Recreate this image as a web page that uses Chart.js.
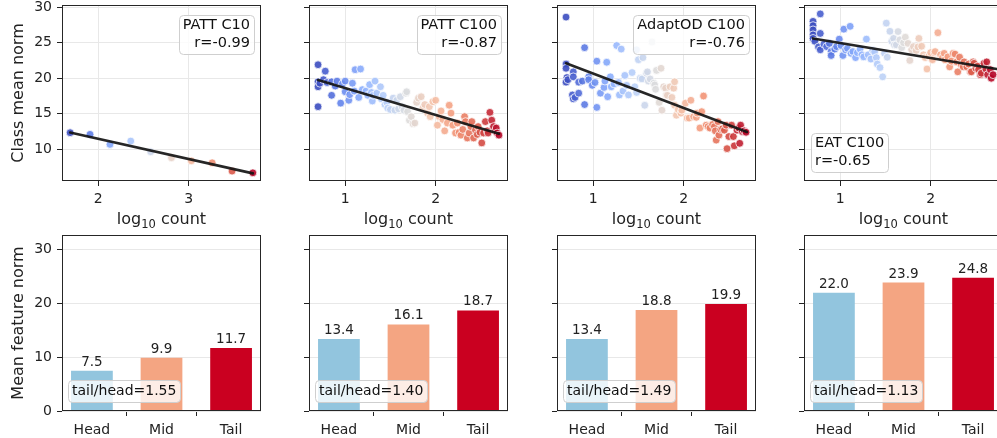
<!DOCTYPE html>
<html>
<head>
<meta charset="utf-8">
<script src="https://cdn.jsdelivr.net/npm/chart.js@4.4.1/dist/chart.umd.min.js"></script>
<style>
html,body{margin:0;padding:0;background:#fff;overflow:hidden;width:997px;height:438px;}
canvas{position:absolute;}
</style>
</head>
<body>
<script>
// ---- data ----
const panelNames = ["PATT C10", "PATT C100", "AdaptOD C100", "EAT C100"];
const rLabels = ["r=-0.99", "r=-0.87", "r=-0.76", "r=-0.65"];

const pattC10Count = [1.69,1.91,2.13,2.36,2.58,2.81,3.03,3.26,3.48,3.71];
const pattC10Norm  = [12.34,12.11,10.70,11.17,9.66,8.82,8.39,8.11,6.94,6.70];

const pattC100Count = [0.70,0.70,0.70,0.70,0.72,0.76,0.78,0.80,0.85,0.85,
  0.89,0.91,0.95,0.97,1.00,1.00,1.04,1.05,1.08,1.10,
  1.11,1.15,1.17,1.19,1.23,1.25,1.27,1.29,1.30,1.31,
  1.33,1.35,1.39,1.40,1.42,1.44,1.46,1.47,1.50,1.53,
  1.55,1.57,1.59,1.61,1.63,1.65,1.67,1.68,1.69,1.71,
  1.73,1.75,1.77,1.79,1.81,1.84,1.86,1.88,1.91,1.93,
  1.94,1.97,2.00,2.02,2.04,2.06,2.08,2.10,2.13,2.15,
  2.17,2.19,2.22,2.24,2.26,2.28,2.30,2.32,2.33,2.35,
  2.37,2.39,2.40,2.42,2.44,2.46,2.47,2.49,2.51,2.53,
  2.55,2.57,2.58,2.60,2.62,2.64,2.66,2.67,2.68,2.70];
const pattC100Norm = [21.9,19.5,18.8,16.0,19.3,19.8,21.0,19.4,19.5,17.6,
  18.9,19.6,16.5,19.2,19.6,18.1,16.9,17.7,19.3,18.2,
  21.2,17.3,21.3,18.4,18.2,17.6,19.1,18.0,16.8,17.6,
  19.6,17.9,18.8,17.1,17.6,16.3,16.6,15.8,15.6,17.2,
  15.5,16.9,15.7,17.4,16.0,15.5,17.9,18.1,15.3,14.1,
  14.6,13.6,13.7,16.6,17.2,17.4,15.8,16.3,15.1,16.0,
  14.6,16.7,16.9,13.4,14.6,15.4,14.2,12.6,13.7,16.2,
  15.1,13.4,12.3,13.7,12.4,12.0,12.8,14.6,13.9,11.6,
  12.3,13.2,13.9,11.6,12.7,12.1,13.2,12.4,10.9,12.3,
  13.9,12.6,12.3,15.2,14.1,13.2,12.6,13.0,12.3,12.0];

const adaptodCount = [0.70,0.70,0.70,0.71,0.70,0.72,0.78,0.78,0.77,0.78,
  0.80,0.84,0.84,0.88,0.905,0.905,0.95,0.95,0.99,1.02,
  1.04,1.04,1.08,1.12,1.13,1.15,1.16,1.19,1.20,1.23,
  1.26,1.28,1.29,1.31,1.33,1.35,1.37,1.39,1.43,1.46,
  1.48,1.48,1.50,1.52,1.54,1.55,1.57,1.59,1.60,1.61,
  1.63,1.65,1.67,1.68,1.69,1.70,1.73,1.75,1.76,1.78,
  1.80,1.81,1.82,1.85,1.87,1.89,1.90,1.90,1.92,1.94,
  1.97,1.98,2.02,2.04,2.06,2.08,2.11,2.14,2.15,2.18,
  2.20,2.22,2.25,2.27,2.29,2.32,2.34,2.35,2.36,2.38,
  2.39,2.41,2.43,2.45,2.47,2.48,2.50,2.53,2.55,2.56,
  2.59,2.61,2.62,2.63,2.65,2.67,2.69];
const adaptodNorm = [28.6,22.0,21.4,20.1,19.45,19.8,20.9,20.2,17.65,17.1,
  17.3,19.45,17.9,19.6,24.3,16.3,20.2,19.8,19.0,19.4,
  22.4,15.9,17.9,18.7,19.6,22.25,17.4,20.2,18.8,19.2,
  24.6,19.4,17.65,24.1,18.2,20.4,19.0,17.65,20.8,18.8,
  18.0,24.0,22.6,20.0,19.9,22.9,16.2,20.7,20.9,19.6,
  19.9,25.1,19.3,19.06,18.45,21.1,16.6,21.4,15.5,18.8,
  18.6,17.65,17.6,18.8,17.3,18.6,19.5,16.2,14.8,15.6,
  15.1,15.5,16.5,14.4,14.4,16.9,14.6,14.5,15.1,13.0,
  15.3,17.5,13.4,13.2,13.0,13.5,13.2,12.6,11.3,13.9,
  12.0,12.8,12.9,12.7,13.4,10.1,11.8,13.4,11.8,10.5,
  12.7,13.0,10.85,13.4,12.5,12.6,12.4];

const eatCount = [0.70,0.70,0.70,0.70,0.70,0.72,0.76,0.78,0.78,0.78,
  0.82,0.85,0.88,0.90,0.90,0.94,0.96,0.99,1.01,1.03,
  1.04,1.06,1.08,1.11,1.12,1.14,1.17,1.19,1.22,1.24,
  1.26,1.29,1.31,1.34,1.36,1.38,1.40,1.41,1.44,1.47,
  1.49,1.51,1.52,1.55,1.57,1.59,1.60,1.62,1.64,1.66,
  1.68,1.70,1.72,1.75,1.77,1.79,1.81,1.84,1.86,1.87,
  1.90,1.92,1.94,1.96,1.98,2.00,2.02,2.04,2.05,2.08,
  2.11,2.13,2.15,2.16,2.19,2.21,2.23,2.25,2.27,2.29,
  2.30,2.32,2.34,2.36,2.37,2.40,2.42,2.44,2.45,2.47,
  2.48,2.50,2.52,2.53,2.55,2.56,2.59,2.61,2.62,2.63,
  2.66,2.67,2.69];
const eatNorm = [28.0,27.4,26.8,26.1,25.6,25.2,24.4,29.05,26.3,24.0,
  24.8,24.45,24.9,23.75,23.2,24.1,24.45,25.5,24.6,23.2,
  26.9,24.0,24.2,27.3,23.5,23.75,22.9,23.6,24.1,23.3,
  23.0,25.5,23.3,22.7,23.9,23.7,22.9,22.0,21.5,20.2,
  23.5,27.75,22.96,26.6,25.2,25.6,24.7,24.7,26.56,25.4,
  24.3,25.0,25.77,24.9,22.5,24.0,24.45,23.9,24.4,25.6,
  24.5,23.3,22.9,21.3,23.1,23.6,22.6,23.6,23.75,26.4,
  23.3,22.9,23.5,22.6,23.0,21.6,22.4,23.5,23.4,22.3,
  20.9,22.96,21.9,21.6,22.3,21.6,22.0,20.9,20.9,22.3,
  22.1,21.4,21.7,21.2,20.5,20.7,22.1,21.3,22.3,20.5,
  21.2,20.0,20.5];

// fitted line end points (x, y) per panel
const fitCount = [[1.69, 3.71], [0.70, 2.70], [0.70, 2.70], [0.70, 2.73]];
const fitNorm  = [[12.36, 6.62], [19.75, 12.2], [22.1, 12.45], [25.6, 21.3]];

const groups = ["Head", "Mid", "Tail"];
const barPattC10  = [7.5, 9.9, 11.7];
const barPattC100 = [13.4, 16.1, 18.7];
const barAdaptod  = [13.4, 18.8, 19.9];
const barEat      = [22.0, 23.9, 24.8];
const ratioLabels = ["tail/head=1.55", "tail/head=1.40", "tail/head=1.49", "tail/head=1.13"];

const topXTicks = [[2, 3], [1, 2], [1, 2], [1, 2]];
const topYTicks = [10, 15, 20, 25, 30];
const barXTicks = [0, 1, 2];
const barYTicks = [0, 10, 20, 30];

// ---- drawing ----
const counts = [pattC10Count, pattC100Count, adaptodCount, eatCount];
const norms = [pattC10Norm, pattC100Norm, adaptodNorm, eatNorm];
const bars = [barPattC10, barPattC100, barAdaptod, barEat];

const FONT = 'DejaVu Sans';
Chart.defaults.font.family = FONT;
Chart.defaults.color = '#222';

const coolwarm = ['#3b4cc0','#6384eb','#8db0fe','#b9d0f9','#dddcdc','#f4c5ad','#f49a7b','#de614d','#b40426'];
function cw(t){
  const s = Math.max(0, Math.min(1, t)) * (coolwarm.length - 1);
  const i = Math.min(Math.floor(s), coolwarm.length - 2), f = s - i;
  const a = hex(coolwarm[i]), b = hex(coolwarm[i + 1]);
  const c = a.map((v, k) => Math.round(v + (b[k] - v) * f));
  return `rgba(${c[0]},${c[1]},${c[2]},0.9)`;
}
function hex(h){
  return [1, 3, 5].map(k => parseInt(h.substr(k, 2), 16));
}

function makeCanvas(left, top, w, h){
  const c = document.createElement('canvas');
  c.width = w; c.height = h;
  c.style.left = left + 'px'; c.style.top = top + 'px';
  c.style.width = w + 'px'; c.style.height = h + 'px';
  document.body.appendChild(c);
  return c;
}

// no automatic padding for tick labels sticking out of the axes
function noPad(s){
  s.paddingTop = 0; s.paddingBottom = 0; s.paddingLeft = 0; s.paddingRight = 0;
}

const framePlugin = {
  id: 'frame',
  afterDraw(chart){
    const {ctx, chartArea: a} = chart;
    ctx.save();
    ctx.strokeStyle = '#262626';
    ctx.lineWidth = 1;
    ctx.strokeRect(a.left + 0.5, a.top + 0.5, a.right - a.left - 1, a.bottom - a.top - 1);
    ctx.restore();
  }
};

// "log10 count" with a real subscript
const logTitlePlugin = {
  id: 'logTitle',
  afterDraw(chart, args, o){
    if (!o.show) return;
    const {ctx, chartArea: a} = chart;
    const parts = [['log', 16, 0], ['10', 11.5, 4], [' count', 16, 0]];
    ctx.save();
    ctx.fillStyle = '#222';
    ctx.textBaseline = 'alphabetic';
    ctx.textAlign = 'left';
    let total = 0;
    parts.forEach(p => { ctx.font = p[1] + 'px "DejaVu Sans"'; total += ctx.measureText(p[0]).width; });
    let x = (a.left + a.right) / 2 - total / 2;
    parts.forEach(p => {
      ctx.font = p[1] + 'px "DejaVu Sans"';
      ctx.fillText(p[0], x, o.baseline + p[2]);
      x += ctx.measureText(p[0]).width;
    });
    ctx.restore();
  }
};

const valuePlugin = {
  id: 'barValues',
  afterDatasetsDraw(chart, args, o){
    if (!o.show) return;
    const ctx = chart.ctx;
    const meta = chart.getDatasetMeta(0);
    const vals = chart.data.datasets[0].data;
    ctx.save();
    ctx.font = '13.5px "DejaVu Sans"';
    ctx.fillStyle = '#222';
    ctx.textAlign = 'center';
    ctx.textBaseline = 'alphabetic';
    meta.data.forEach((el, k) => ctx.fillText(vals[k].y.toFixed(1), el.x, el.y - 5));
    ctx.restore();
  }
};

const boxPlugin = {
  id: 'labelBox',
  afterDatasetsDraw(chart, args, o){
    if (!o.lines) return;
    const {ctx, chartArea: a} = chart;
    ctx.save();
    ctx.font = o.size + 'px "DejaVu Sans"';
    const w = Math.max(...o.lines.map(t => ctx.measureText(t).width));
    const bw = w + 2 * o.padX, bh = o.lines.length * o.lineH + 2 * o.padY;
    const right = o.corner[1] === 'r';
    const x = right ? a.right - o.dx - bw : a.left + o.dx;
    const y = o.corner[0] === 't' ? a.top + o.dy : a.bottom - o.dy - bh;
    ctx.beginPath();
    ctx.roundRect(Math.round(x) + 0.5, Math.round(y) + 0.5, Math.round(bw), Math.round(bh), 4);
    ctx.fillStyle = 'rgba(255,255,255,0.8)';
    ctx.fill();
    ctx.strokeStyle = '#cfcfcf';
    ctx.lineWidth = 1;
    ctx.stroke();
    ctx.fillStyle = '#111';
    ctx.textBaseline = 'middle';
    ctx.textAlign = right ? 'right' : 'left';
    const tx = right ? x + bw - o.padX : x + o.padX;
    o.lines.forEach((t, k) => ctx.fillText(t, tx, y + o.padY + o.lineH * (k + 0.5)));
    ctx.restore();
  }
};

Chart.register(framePlugin, logTitlePlugin, valuePlugin, boxPlugin);

const panelLefts = [62, 309, 557, 804];
const PW = 199;

function topChart(i){
  const yW = i === 0 ? 62 : 40;
  const canvas = makeCanvas(panelLefts[i] - yW, 0, yW + PW + 6, 230);
  const pts = counts[i].map((x, k) => ({x, y: norms[i][k]}));
  const lo = Math.min(...counts[i]), hi = Math.max(...counts[i]);
  const colors = counts[i].map(x => cw((x - lo) / (hi - lo)));
  const line = fitCount[i].map((x, k) => ({x, y: fitNorm[i][k]}));
  const xr = i === 0 ? [1.6, 3.8] : [0.6, 2.8];
  new Chart(canvas, {
    type: 'scatter',
    data: {datasets: [
      {data: line, showLine: true, borderColor: 'rgba(20,20,20,0.92)', borderWidth: 2.6,
       pointRadius: 0, borderCapStyle: 'round'},
      {data: pts, pointRadius: 3.9, pointBackgroundColor: colors,
       pointBorderColor: 'rgba(255,255,255,0.95)', pointBorderWidth: 0.8}
    ]},
    options: {
      responsive: false, animation: false, events: [],
      layout: {padding: {top: 5, right: 6, left: 0, bottom: 0}},
      plugins: {
        legend: {display: false}, tooltip: {enabled: false},
        logTitle: {show: true, baseline: 224},
        labelBox: i === 3
          ? {lines: [panelNames[i], rLabels[i]], corner: 'bl', size: 14.5, lineH: 18, padX: 4, padY: 1.5, dx: 7, dy: 9}
          : {lines: [panelNames[i], rLabels[i]], corner: 'tr', size: 14.5, lineH: 18, padX: 4, padY: 1.5, dx: 7, dy: 10}
      },
      scales: {
        x: {
          type: 'linear', min: xr[0], max: xr[1],
          afterBuildTicks: s => { s.ticks = topXTicks[i].map(v => ({value: v})); },
          afterFit: s => { s.height = 49; noPad(s); },
          grid: {color: '#e8e8e8', tickColor: '#222', tickLength: 5},
          border: {display: false},
          ticks: {font: {size: 14}, color: '#222', padding: 5, maxRotation: 0, autoSkip: false}
        },
        y: {
          min: 5.55, max: 30.3,
          afterBuildTicks: s => { s.ticks = topYTicks.map(v => ({value: v})); },
          afterFit: s => { s.width = yW; noPad(s); },
          grid: {color: '#e8e8e8', tickColor: '#222', tickLength: 5},
          border: {display: false},
          ticks: {display: i === 0, font: {size: 14}, color: '#222', padding: 5},
          title: {display: i === 0, text: 'Class mean norm', font: {size: 16}, color: '#222', padding: {top: 9, bottom: 0}}
        }
      }
    }
  });
}

function barChart(i){
  const yW = i === 0 ? 62 : 40;
  const canvas = makeCanvas(panelLefts[i] - yW, 230, yW + PW + 6, 208);
  const pts = bars[i].map((v, k) => ({x: barXTicks[k], y: v}));
  new Chart(canvas, {
    type: 'bar',
    data: {datasets: [{
      data: pts, backgroundColor: ['#92c5de', '#f4a582', '#ca0020'],
      barPercentage: 0.6, categoryPercentage: 1.0, borderWidth: 0
    }]},
    options: {
      responsive: false, animation: false, events: [],
      layout: {padding: {top: 5, right: 6, left: 0, bottom: 0}},
      plugins: {
        legend: {display: false}, tooltip: {enabled: false},
        barValues: {show: true},
        labelBox: {lines: [ratioLabels[i]], corner: 'bl', size: 14, lineH: 18, padX: 4, padY: 2, dx: 6, dy: 9}
      },
      scales: {
        x: {
          type: 'linear', min: -0.43, max: 2.43, offset: false,
          afterBuildTicks: s => { s.ticks = barXTicks.map(v => ({value: v})); },
          afterFit: s => { s.height = 27; noPad(s); },
          grid: {drawOnChartArea: false, tickColor: '#222', tickLength: 5},
          border: {display: false},
          ticks: {font: {size: 14}, color: '#222', padding: 6, callback: v => groups[v], autoSkip: false, maxRotation: 0}
        },
        y: {
          min: 0, max: 32.74,
          afterBuildTicks: s => { s.ticks = barYTicks.map(v => ({value: v})); },
          afterFit: s => { s.width = yW; noPad(s); },
          grid: {color: '#e8e8e8', tickColor: '#222', tickLength: 5},
          border: {display: false},
          ticks: {display: i === 0, font: {size: 14}, color: '#222', padding: 5},
          title: {display: i === 0, text: 'Mean feature norm', font: {size: 16}, color: '#222', padding: {top: 9, bottom: 0}}
        }
      }
    }
  });
}

for (let i = 0; i < 4; i++){ topChart(i); barChart(i); }
</script>
</body>
</html>
